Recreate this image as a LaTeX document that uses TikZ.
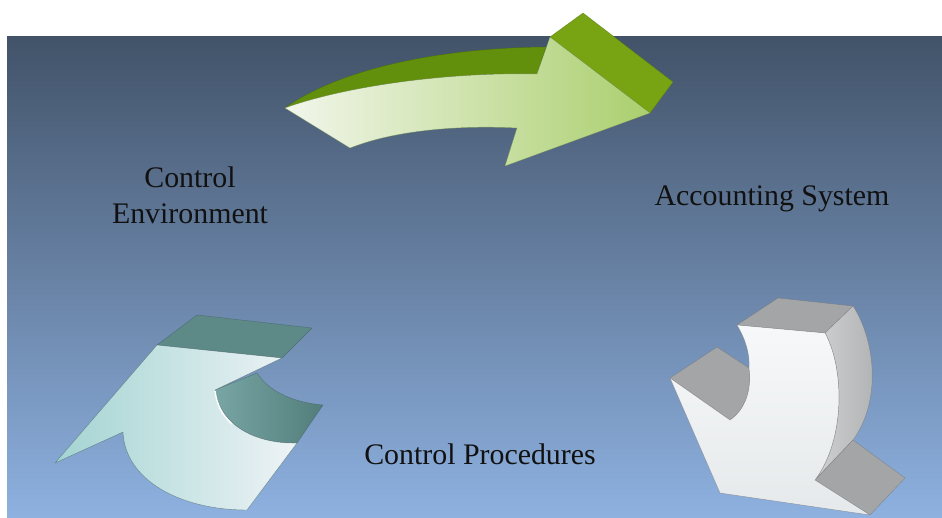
\documentclass[tikz,border=0pt]{standalone}
\usepackage{fontspec}
\setmainfont{Liberation Serif}
\definecolor{bgtop}{HTML}{425369}
\definecolor{bgbot}{HTML}{8EB1E0}
\definecolor{txt}{HTML}{111111}
\definecolor{gshaft}{HTML}{62900C}
\definecolor{ghead}{HTML}{78A414}
\definecolor{glight}{HTML}{F2F6EC}
\definecolor{gmid}{HTML}{ABCF6E}
\definecolor{wtop}{HTML}{A3A5A6}
\definecolor{wsideA}{HTML}{CFD1D2}
\definecolor{wsideB}{HTML}{ADAFB0}
\definecolor{wfrontA}{HTML}{F6F8F9}
\definecolor{wfrontB}{HTML}{E6E9EB}
\definecolor{ctop}{HTML}{5D8987}
\definecolor{ctealA}{HTML}{78A6A4}
\definecolor{ctealB}{HTML}{527D7B}
\definecolor{cfrontA}{HTML}{A3D4D2}
\definecolor{cfrontB}{HTML}{EEF3F6}
\begin{document}
\begin{tikzpicture}[x=0.02cm,y=-0.02cm,
  label/.style={font=\fontsize{17}{20.4}\selectfont, text=txt, inner sep=0pt, anchor=base, align=center},
  rim/.style={draw=#1, draw opacity=0.6, line width=0.25pt, line join=round}]
  \useasboundingbox (0,0) rectangle (942,517);
  \shade [top color=bgtop, bottom color=bgbot] (7,37) rectangle (942,517);
  \path [rim=gshaft!70!black, fill=gshaft] (285,108) .. controls (335,72) and (430,48) .. (546,47) -- (537,74) .. controls (440,72) and (340,88) .. cycle;
  \path [rim=ghead!70!black, fill=ghead] (550,37) -- (583,13) -- (673,82) -- (650,113) -- cycle;
  \path [rim=gmid!70!black, left color=glight, right color=gmid] (285,108) .. controls (340,88) and (440,72) .. (537,74) -- (550,37) -- (650,113) -- (505,166) -- (517,128) .. controls (460,125) and (395,130) .. (350,148) -- cycle;
  \path [rim=wtop!70!black, fill=wtop] (737,325) -- (778,298) -- (853,306) -- (825,333) -- cycle;
  \path [rim=wtop!70!black, left color=wsideA, right color=wsideB] (825,333) -- (853,306) .. controls (875,340) and (882,400) .. (853,440) -- (815,480) .. controls (845,440) and (845,370) .. cycle;
  \path [rim=wtop!70!black, fill=wtop] (815,480) -- (853,440) -- (905,478) -- (870,515) -- cycle;
  \path [rim=wtop!70!black, fill=wtop] (670,378) -- (717,347) -- (749,368) .. controls (752,390) and (745,410) .. (730,420) -- cycle;
  \path [rim=wtop!70!black, top color=wfrontA, bottom color=wfrontB] (737,325) .. controls (746,340) and (750,355) .. (749,368) .. controls (752,390) and (745,410) .. (730,420) -- (670,378) -- (720,493) -- (870,515) -- (815,480) .. controls (845,440) and (845,370) .. (825,333) -- cycle;
  \path [rim=ctop!70!black, fill=ctop] (157,345) -- (197,315) -- (312,328) -- (282,358) -- cycle;
  \path [rim=ctop!70!black, left color=ctealA, right color=ctealB] (257,373) .. controls (268,390) and (290,402) .. (323,405) -- (297,443) .. controls (255,444) and (220,425) .. (215,390) -- cycle;
  \path [rim=ctop!70!black, left color=cfrontA, right color=cfrontB] (157,345) -- (282,358) -- (215,390) .. controls (220,425) and (255,444) .. (297,443) -- (247,510) .. controls (180,510) and (125,480) .. (123,432) -- (55,463) -- cycle;
  \draw [white, line width=0.8pt] (215,391) .. controls (217,405) and (222,415) .. (232,424);
  \node [label] (env) at (190,223) {Control\\Environment};
  \node [label] (acc) at (772,205) {Accounting System};
  \node [label] (proc) at (480,464) {Control Procedures};
\end{tikzpicture}
\end{document}
